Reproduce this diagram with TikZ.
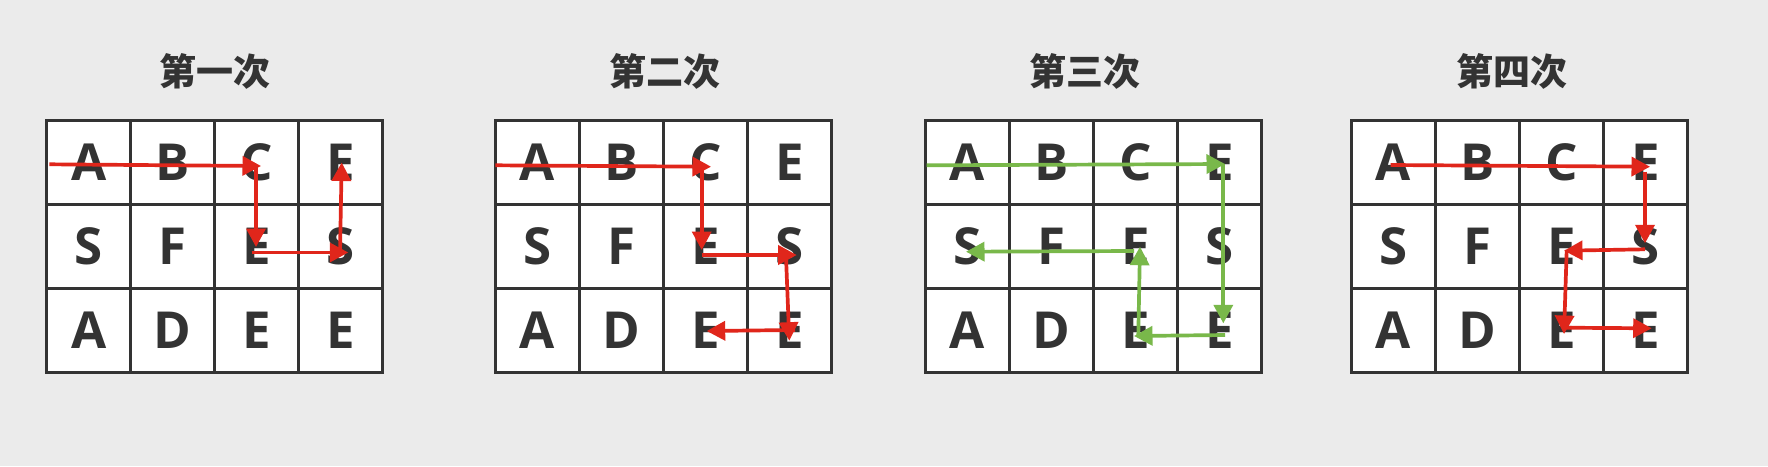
\documentclass[tikz,border=0pt]{standalone}
\usepackage{fontspec}
\setmainfont{Open Sans}
\newfontfamily\cjk{Noto Sans CJK SC}
\usetikzlibrary{arrows.meta}
\definecolor{bg}{HTML}{EBEBEB}
\definecolor{ink}{HTML}{333333}
\definecolor{redarr}{HTML}{E0261B}
\definecolor{greenarr}{HTML}{79B84A}
\tikzset{
  cell/.style={draw=ink, fill=white, line width=3.3pt, minimum size=84pt, inner sep=0pt, text=ink, font=\fontsize{51}{51}\selectfont\bfseries},
  title/.style={text=ink, inner sep=0pt, font=\cjk\fontsize{37}{37}\selectfont\bfseries},
  arr/.style={line width=3.7pt, -{Triangle[length=18.5pt,width=19pt]}},
  redpath/.style={arr, draw=redarr},
  greenpath/.style={arr, draw=greenarr}
}
\newcommand{\mygrid}[2]{%
  \foreach \r/\row in {0/{A,B,C,E},1/{S,F,E,S},2/{A,D,E,E}}{
    \foreach \l [count=\c from 0] in \row {
      \node[cell] (#1-\r-\c) at (#2+84*\c+42, 120.7+84*\r+42) {\l};
    }
  }%
}
\begin{document}
\begin{tikzpicture}[x=1pt,y=-1pt]
\fill[bg] (0,0) rectangle (1768,466);
\useasboundingbox (0,0) rectangle (1768,466);
% titles
\node[title] (t1) at (215,71) {第一次};
\node[title] (t2) at (665,71) {第二次};
\node[title] (t3) at (1085,71) {第三次};
\node[title] (t4) at (1512,71) {第四次};
% grids
\mygrid{g1}{46.7}
\mygrid{g2}{495.3}
\mygrid{g3}{925.3}
\mygrid{g4}{1351.3}
% grid 1 path
\coordinate (a1s) at (49.3,164.3);
\coordinate (a1t) at (261,166);
\coordinate (a2s) at (256,166);
\coordinate (a2t) at (256,247);
\coordinate (a3s) at (251.7,252.5);
\coordinate (a3t) at (348.3,252.5);
\coordinate (a4s) at (340,252.5);
\coordinate (a4t) at (341.7,162.5);
\draw[redpath] (a1s) -- (a1t);
\draw[redpath] (a2s) -- (a2t);
\draw[redpath] (a3s) -- (a3t);
\draw[redpath] (a4s) -- (a4t);
% grid 2 path
\coordinate (b1s) at (495.3,165.3);
\coordinate (b1t) at (711,166.7);
\coordinate (b2s) at (701.7,166.7);
\coordinate (b2t) at (701.7,250);
\coordinate (b3s) at (701.7,255);
\coordinate (b3t) at (796.7,255);
\coordinate (b4s) at (786,256.7);
\coordinate (b4t) at (789.3,340.7);
\coordinate (b5s) at (795,330);
\coordinate (b5t) at (706.7,331);
\draw[redpath] (b1s) -- (b1t);
\draw[redpath] (b2s) -- (b2t);
\draw[redpath] (b3s) -- (b3t);
\draw[redpath] (b4s) -- (b4t);
\draw[redpath] (b5s) -- (b5t);
% grid 3 path
\coordinate (c1s) at (926.7,165.3);
\coordinate (c1t) at (1225,164);
\coordinate (c2s) at (1223.3,164);
\coordinate (c2t) at (1223.3,323.3);
\coordinate (c3s) at (1225,335);
\coordinate (c3t) at (1134,336);
\coordinate (c4s) at (1138.3,335);
\coordinate (c4t) at (1140,246.7);
\coordinate (c5s) at (1134,251);
\coordinate (c5t) at (966,251.7);
\draw[greenpath] (c1s) -- (c1t);
\draw[greenpath] (c2s) -- (c2t);
\draw[greenpath] (c3s) -- (c3t);
\draw[greenpath] (c4s) -- (c4t);
\draw[greenpath] (c5s) -- (c5t);
% grid 4 path
\coordinate (d1s) at (1390.7,165);
\coordinate (d1t) at (1650,166.7);
\coordinate (d2s) at (1645,171.7);
\coordinate (d2t) at (1645,243.3);
\coordinate (d3s) at (1645,249.3);
\coordinate (d3t) at (1564,250.7);
\coordinate (d4s) at (1566.7,250);
\coordinate (d4t) at (1564,334);
\coordinate (d5s) at (1564,327.7);
\coordinate (d5t) at (1651.7,328.3);
\draw[redpath] (d1s) -- (d1t);
\draw[redpath] (d2s) -- (d2t);
\draw[redpath] (d3s) -- (d3t);
\draw[redpath] (d4s) -- (d4t);
\draw[redpath] (d5s) -- (d5t);
\end{tikzpicture}
\end{document}
